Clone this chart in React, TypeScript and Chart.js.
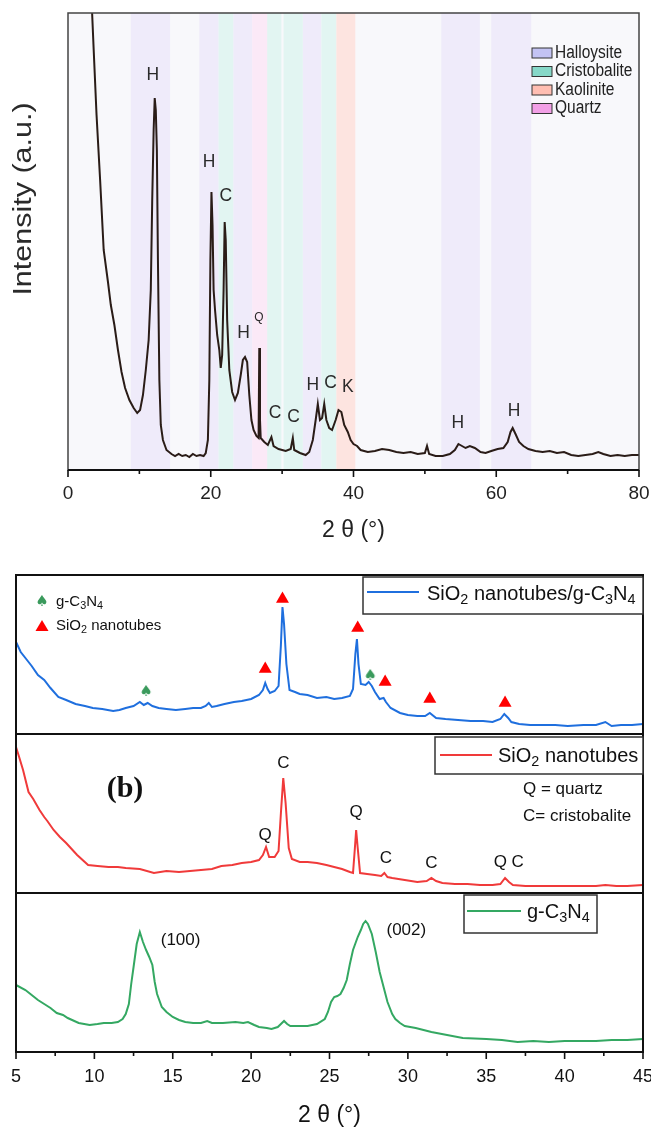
import React, { useEffect, useRef } from "react";
import { Chart, registerables } from "chart.js";

Chart.register(...registerables);

const SANS = "'Liberation Sans', Arial, Helvetica, sans-serif";
const SERIF = "'Liberation Serif', 'Times New Roman', serif";

// ---------------- Panel (a): halloysite XRD ----------------
const aTheta = [3.3, 3.6, 4.0, 4.5, 5.0, 5.6, 6.0, 6.5, 7.0, 7.5, 8.0, 8.6, 9.2, 9.7, 10.1, 10.5, 10.9, 11.3, 11.6, 11.8, 12.0, 12.15, 12.3, 12.45, 12.6, 12.8, 13.0, 13.3, 13.8, 14.5, 15.0, 15.5, 16.0, 16.5, 17.0, 17.5, 18.0, 18.5, 19.0, 19.3, 19.6, 19.8, 19.95, 20.1, 20.25, 20.4, 20.6, 20.9, 21.2, 21.4, 21.6, 21.8, 21.95, 22.1, 22.3, 22.6, 23.0, 23.4, 23.8, 24.2, 24.5, 24.8, 25.1, 25.4, 25.7, 26.0, 26.4, 26.7, 26.8, 26.9, 27.0, 27.5, 28.0, 28.5, 28.8, 29.5, 30.5, 31.2, 31.5, 31.7, 32.5, 33.3, 33.8, 34.3, 34.7, 35.0, 35.3, 35.6, 35.9, 36.2, 36.6, 37.0, 37.5, 37.9, 38.3, 38.7, 39.2, 39.6, 40.0, 40.5, 41.0, 42.0, 43.0, 44.0, 45.0, 46.0, 47.0, 48.0, 49.0, 50.0, 50.3, 50.6, 51.5, 52.5, 53.5, 54.2, 54.7, 55.2, 55.7, 56.3, 57.0, 57.8, 58.5, 59.3, 60.2, 61.0, 61.6, 62.0, 62.3, 62.7, 63.2, 63.8, 64.5, 65.5, 66.5, 67.5, 68.5, 69.5, 70.5, 71.5, 72.5, 73.5, 74.3, 75.0, 76.0, 77.0, 78.0, 79.0, 80.0];
const aIntensity = [470, 420, 355, 290, 220, 188, 165, 145, 120, 98, 82, 70, 62, 57, 60, 75, 100, 130, 180, 270, 340, 372, 360, 320, 210, 90, 45, 30, 20, 16, 14, 16, 14, 15, 13, 16, 14, 15, 14, 17, 30, 90, 210, 278, 245, 180, 160, 135, 120, 102, 115, 180, 248, 230, 150, 100, 78, 70, 77, 95, 110, 113, 108, 75, 50, 40, 34, 32, 122, 50, 32, 28, 25, 33, 24, 21, 19, 21, 32, 20, 17, 15, 18, 30, 50, 66, 50, 52, 66, 50, 42, 40, 50, 60, 58, 45, 38, 30, 26, 24, 20, 18, 19, 21, 20, 18, 17, 18, 16, 17, 24, 16, 14, 14, 16, 20, 26, 24, 22, 24, 22, 18, 17, 19, 21, 22, 28, 38, 42, 36, 28, 24, 21, 19, 18, 19, 17, 18, 15, 14, 15, 16, 18, 16, 14, 15, 14, 15, 15];
const aMajorTicks = [0, 20, 40, 60, 80];
const aMinorTicks = [10, 30, 50, 70];

const halloysiteBands = [[8.8, 14.3], [18.4, 21.1], [23.15, 25.8], [32.9, 35.5], [52.3, 57.7], [59.3, 64.9]];
const cristobaliteBands = [[21.1, 23.15], [27.9, 29.9], [30.2, 32.9], [35.5, 37.6]];
const quartzBands = [[25.8, 27.9]];
const kaoliniteBands = [[37.6, 40.25]];

const aPeakText = ["H", "H", "C", "H", "Q", "C", "C", "H", "C", "K", "H", "H"];
const aPeakTheta = [11.9, 19.75, 22.1, 24.6, 26.75, 29.0, 31.6, 34.3, 36.8, 39.2, 54.6, 62.5];
const aPeakLevel = [395, 308, 274, 137, 153, 57, 53, 85, 87, 83, 47, 59];

const phaseNames = ["Halloysite", "Cristobalite", "Kaolinite", "Quartz"];
const phaseSwatch = ["#c3c3f3", "#86d8c8", "#ffbeb2", "#f2a0e6"];

// ---------------- Panel (b): SiO2 nanotubes / g-C3N4 ----------------
const bMajorTicks = [5, 10, 15, 20, 25, 30, 35, 40, 45];
const bMinorTicks = [7.5, 12.5, 17.5, 22.5, 27.5, 32.5, 37.5, 42.5];

const compTheta = [5.0, 5.3, 5.6, 6.0, 6.4, 6.8, 7.2, 7.7, 8.2, 8.8, 9.4, 9.9, 10.5, 11.2, 11.6, 12.0, 12.5, 12.9, 13.15, 13.4, 13.7, 14.1, 14.6, 15.2, 15.8, 16.3, 16.8, 17.1, 17.3, 17.5, 17.8, 18.3, 18.9, 19.4, 20.0, 20.5, 20.75, 20.9, 21.05, 21.2, 21.5, 21.75, 21.9, 22.0, 22.1, 22.25, 22.45, 22.8, 23.1, 23.6, 24.2, 24.8, 25.3, 25.8, 26.3, 26.5, 26.65, 26.75, 26.85, 27.0, 27.3, 27.5, 27.7, 27.9, 28.2, 28.45, 28.6, 28.9, 29.5, 30.0, 30.6, 31.1, 31.4, 31.8, 32.4, 33.2, 34.0, 34.8, 35.4, 35.9, 36.15, 36.4, 36.6, 37.1, 37.8, 38.6, 39.4, 40.2, 41.2, 42.0, 42.6, 43.0, 43.6, 44.3, 45.0];
const compIntensity = [92, 82, 76, 68, 59, 54, 46, 37, 34, 30, 28, 26, 25, 23, 24, 26, 28, 32, 29, 31, 28, 26, 25, 24, 25, 26, 26, 28, 31, 27, 28, 30, 32, 33, 35, 39, 44, 51, 45, 41, 43, 48, 89, 127, 110, 70, 44, 42, 40, 39, 36, 37, 35, 36, 38, 45, 80, 95, 70, 50, 49, 52, 48, 42, 35, 36, 32, 26, 21, 19, 18, 18, 21, 16, 15, 14, 13, 13, 12, 15, 20, 16, 12, 10, 9, 9, 9, 8, 9, 9, 12, 8, 9, 9, 10];

const triTheta = [20.9, 22.0, 26.8, 28.55, 31.4, 36.2];
const triLevel = [65, 135, 106, 52, 35, 31];
const spadeTheta = [13.3, 27.6];
const spadeLevel = [42, 58];

const sioTheta = [5.0, 5.2, 5.45, 5.8, 6.1, 6.5, 6.8, 7.0, 7.4, 7.8, 8.2, 8.9, 9.6, 10.2, 10.9, 11.5, 12.0, 12.9, 13.8, 14.6, 15.4, 16.1, 16.8, 17.5, 18.1, 18.8, 19.4, 20.0, 20.5, 20.75, 20.95, 21.15, 21.5, 21.75, 21.9, 22.05, 22.2, 22.4, 22.6, 23.1, 23.6, 24.2, 24.8, 25.3, 25.8, 26.3, 26.5, 26.62, 26.7, 26.8, 26.95, 27.4, 27.9, 28.3, 28.5, 28.7, 29.0, 29.8, 30.6, 31.2, 31.5, 31.8, 32.2, 33.0, 33.8, 34.6, 35.4, 35.9, 36.2, 36.45, 36.7, 37.5, 38.6, 39.8, 41.2, 42.0, 42.6, 43.3, 44.0, 45.0];
const sioIntensity = [146, 136, 123, 101, 94, 83, 76, 72, 63, 56, 50, 38, 28, 27, 26, 26, 25, 24, 20, 22, 21, 22, 23, 24, 27, 28, 30, 31, 33, 38, 46, 36, 36, 42, 80, 115, 90, 45, 34, 31, 31, 30, 28, 26, 24, 21, 20, 45, 63, 45, 20, 19, 18, 17, 20, 16, 15, 13, 11, 12, 15, 12, 10, 9, 9, 8, 8, 9, 15, 11, 8, 7, 7, 7, 7, 7, 8, 7, 7, 8];
const sioLabelText = ["C", "Q", "Q", "C", "C", "Q", "C"];
const sioLabelTheta = [22.06, 20.9, 26.7, 28.6, 31.5, 35.9, 37.0];
const sioLabelLevel = [130, 58, 81, 35, 30, 31, 31];

const gcnTheta = [5.0, 5.6, 6.0, 6.4, 6.8, 7.2, 7.6, 8.0, 8.3, 9.0, 9.7, 10.2, 10.6, 11.1, 11.5, 11.8, 12.0, 12.2, 12.35, 12.5, 12.7, 12.9, 13.1, 13.3, 13.5, 13.7, 13.85, 14.0, 14.3, 14.6, 15.0, 15.4, 15.8, 16.3, 16.8, 17.2, 17.5, 18.2, 19.0, 19.5, 19.8, 20.2, 20.5, 21.0, 21.3, 21.7, 21.9, 22.1, 22.3, 22.5, 23.0, 23.6, 24.2, 24.7, 24.9, 25.1, 25.3, 25.5, 25.7, 25.9, 26.1, 26.3, 26.5, 26.8, 27.0, 27.15, 27.3, 27.45, 27.7, 27.95, 28.2, 28.5, 28.7, 29.0, 29.2, 29.5, 29.8, 30.5, 31.0, 31.5, 32.5, 33.5, 35.0, 36.0, 37.0, 38.0, 39.0, 40.0, 41.0, 42.0, 43.0, 44.0, 45.0];
const gcnIntensity = [67, 62, 57, 52, 48, 44, 39, 37, 34, 29, 27, 28, 29, 29, 30, 33, 38, 48, 68, 85, 108, 120, 110, 102, 95, 87, 70, 58, 45, 40, 35, 32, 30, 29, 29, 31, 29, 29, 30, 29, 30, 27, 25, 24, 23, 25, 28, 31, 28, 26, 26, 26, 28, 33, 40, 50, 55, 56, 58, 64, 72, 88, 102, 115, 122, 128, 131, 128, 118, 100, 80, 62, 50, 38, 33, 29, 26, 24, 22, 20, 17, 14, 13, 12, 10, 11, 10, 11, 11, 11, 12, 12, 13];
const gcnLabelText = ["(100)", "(002)"];
const gcnLabelTheta = [15.5, 29.9];
const gcnLabelLevel = [112, 122];

// ---------------- helpers ----------------
const pts = (xs: number[], ys: number[]) => xs.map((x, i) => ({ x, y: ys[i] }));

type Seg = [string, boolean?];
function drawRich(ctx: CanvasRenderingContext2D, segs: Seg[], x: number, y: number, size: number, align: "left" | "center" = "left", color = "#111", family = SANS) {
  ctx.save();
  ctx.fillStyle = color;
  ctx.textBaseline = "middle";
  ctx.textAlign = "left";
  const sub = size * 0.72;
  const widths = segs.map(([t, s]) => {
    ctx.font = `${s ? sub : size}px ${family}`;
    return ctx.measureText(t).width;
  });
  const total = widths.reduce((a, b) => a + b, 0);
  let cx = align === "center" ? x - total / 2 : x;
  segs.forEach(([t, s], i) => {
    ctx.font = `${s ? sub : size}px ${family}`;
    ctx.fillText(t, cx, s ? y + size * 0.3 : y);
    cx += widths[i];
  });
  ctx.restore();
}

function drawNarrow(ctx: CanvasRenderingContext2D, text: string, x: number, y: number, size: number, sx: number, align: CanvasTextAlign, color = "#222") {
  ctx.save();
  ctx.translate(x, y);
  ctx.scale(sx, 1);
  ctx.font = `${size}px ${SANS}`;
  ctx.textAlign = align;
  ctx.textBaseline = "middle";
  ctx.fillStyle = color;
  ctx.fillText(text, 0, 0);
  ctx.restore();
}

function drawTicks(ctx: CanvasRenderingContext2D, chart: any, majors: number[], minors: number[]) {
  const a = chart.chartArea;
  const x = chart.scales.x;
  ctx.save();
  ctx.strokeStyle = "#111";
  ctx.lineWidth = 1.6;
  ctx.beginPath();
  majors.forEach((v) => { const p = x.getPixelForValue(v); ctx.moveTo(p, a.bottom); ctx.lineTo(p, a.bottom + 7); });
  minors.forEach((v) => { const p = x.getPixelForValue(v); ctx.moveTo(p, a.bottom); ctx.lineTo(p, a.bottom + 4); });
  ctx.stroke();
  ctx.restore();
}

function legendBox(ctx: CanvasRenderingContext2D, x0: number, y0: number, x1: number, y1: number, color: string, lx0: number, lx1: number, ly: number, segs: Seg[], tx: number, ty: number) {
  ctx.save();
  ctx.fillStyle = "#fff";
  ctx.fillRect(x0, y0, x1 - x0, y1 - y0);
  ctx.strokeStyle = "#333";
  ctx.lineWidth = 1.5;
  ctx.strokeRect(x0, y0, x1 - x0, y1 - y0);
  ctx.strokeStyle = color;
  ctx.lineWidth = 2.2;
  ctx.beginPath();
  ctx.moveTo(lx0, ly);
  ctx.lineTo(lx1, ly);
  ctx.stroke();
  ctx.restore();
  drawRich(ctx, segs, tx, ty, 20, "left", "#111");
}

function frame(ctx: CanvasRenderingContext2D, a: any) {
  ctx.save();
  ctx.strokeStyle = "#111";
  ctx.lineWidth = 2;
  ctx.strokeRect(a.left, a.top, a.right - a.left, a.bottom - a.top);
  ctx.restore();
}

function makeSpade(): HTMLCanvasElement {
  const c = document.createElement("canvas");
  c.width = 14;
  c.height = 16;
  const g = c.getContext("2d")!;
  g.fillStyle = "#3a9a5c";
  g.font = `15px 'DejaVu Sans', sans-serif`;
  g.textAlign = "center";
  g.textBaseline = "middle";
  g.fillText("\u2660", 7, 8);
  return c;
}

const baseOptions = (padding: any) => ({
  responsive: false,
  animation: false as const,
  events: [] as any[],
  layout: { padding },
  plugins: { legend: { display: false }, tooltip: { enabled: false } },
});

const fixHeight = (h: number) => (s: any) => {
  s.height = h;
  s.paddingLeft = 0;
  s.paddingRight = 0;
};

// ---------------- configs ----------------
function makeTopConfig(): any {
  const plugin = {
    id: "panelA",
    beforeDatasetsDraw(chart: any) {
      const { ctx, chartArea: a } = chart;
      const x = chart.scales.x;
      ctx.save();
      ctx.fillStyle = "#f8f8fb";
      ctx.fillRect(a.left, a.top, a.right - a.left, a.bottom - a.top);
      const fill = (bands: number[][], color: string) => {
        ctx.fillStyle = color;
        bands.forEach(([s, e]) => {
          const p0 = x.getPixelForValue(s);
          const p1 = x.getPixelForValue(e);
          ctx.fillRect(p0, a.top, p1 - p0, a.bottom - a.top);
        });
      };
      fill(halloysiteBands, "#efebfa");
      fill(cristobaliteBands, "#e2f5f2");
      fill(quartzBands, "#fbe9f7");
      fill(kaoliniteBands, "#fde4e0");
      ctx.restore();
    },
    afterDatasetsDraw(chart: any) {
      const { ctx, chartArea: a } = chart;
      const x = chart.scales.x;
      const y = chart.scales.y;
      ctx.save();
      ctx.strokeStyle = "#444";
      ctx.lineWidth = 1.5;
      ctx.strokeRect(a.left, a.top, a.right - a.left, a.bottom - a.top);
      ctx.strokeStyle = "#111";
      ctx.lineWidth = 2;
      ctx.beginPath();
      ctx.moveTo(a.left, a.bottom);
      ctx.lineTo(a.right, a.bottom);
      ctx.stroke();
      ctx.restore();
      drawTicks(ctx, chart, aMajorTicks, aMinorTicks);
      aPeakText.forEach((t, i) => {
        const px = x.getPixelForValue(aPeakTheta[i]);
        const py = y.getPixelForValue(aPeakLevel[i]);
        drawNarrow(ctx, t, px, py, t === "Q" ? 13 : 19, 0.92, "center", "#2a2a2a");
      });
      // legend
      phaseNames.forEach((n, i) => {
        const ly = 53 + i * 18.5;
        ctx.save();
        ctx.fillStyle = phaseSwatch[i];
        ctx.fillRect(532, ly - 5, 20, 10);
        ctx.strokeStyle = "#333";
        ctx.lineWidth = 1;
        ctx.strokeRect(532, ly - 5, 20, 10);
        ctx.restore();
        drawNarrow(ctx, n, 555, ly, 18, 0.86, "left", "#222");
      });
      // y title (stretched along its length like the source figure)
      ctx.save();
      ctx.translate(24, 199);
      ctx.rotate(-Math.PI / 2);
      ctx.scale(1.22, 1);
      ctx.font = `25px ${SANS}`;
      ctx.textAlign = "center";
      ctx.textBaseline = "middle";
      ctx.fillStyle = "#2a2a2a";
      ctx.fillText("Intensity (a.u.)", 0, 0);
      ctx.restore();
    },
  };
  return {
    type: "line",
    data: {
      datasets: [
        { data: pts(aTheta, aIntensity), borderColor: "#2a1c17", borderWidth: 2, pointRadius: 0, tension: 0, fill: false },
      ],
    },
    options: {
      ...baseOptions({ left: 68, right: 12, top: 13, bottom: 0 }),
      scales: {
        x: {
          type: "linear", min: 0, max: 80,
          afterFit: fixHeight(90),
          grid: { display: false, drawTicks: false },
          border: { display: false },
          ticks: { stepSize: 20, font: { size: 19, family: SANS }, color: "#222", padding: 12 },
          title: { display: true, text: "2 θ (°)", font: { size: 23, family: SANS }, color: "#222", padding: { top: 0, bottom: 16 } },
        },
        y: { display: false, min: 0, max: 457 },
      },
    },
    plugins: [plugin],
  };
}

const OFF = 560; // top of bottom canvases on the page

function makeCompositeConfig(): any {
  const spade = makeSpade();
  const plugin = {
    id: "panelB1",
    afterDatasetsDraw(chart: any) {
      const { ctx, chartArea: a } = chart;
      frame(ctx, a);
      // marker key
      ctx.save();
      ctx.drawImage(spade, 42 - 7, 602 - OFF - 8);
      ctx.fillStyle = "#ff0000";
      ctx.beginPath();
      ctx.moveTo(42, 626 - OFF - 6);
      ctx.lineTo(48.5, 626 - OFF + 5);
      ctx.lineTo(35.5, 626 - OFF + 5);
      ctx.closePath();
      ctx.fill();
      ctx.restore();
      drawRich(ctx, [["g-C"], ["3", true], ["N"], ["4", true]], 56, 602 - OFF, 15);
      drawRich(ctx, [["SiO"], ["2", true], [" nanotubes"]], 56, 626 - OFF, 15);
      legendBox(ctx, 363, 577 - OFF, a.right, 614 - OFF, "#1f6fde", 367, 419, 592 - OFF,
        [["SiO"], ["2", true], [" nanotubes/g-C"], ["3", true], ["N"], ["4", true]], 427, 594 - OFF);
    },
  };
  return {
    type: "line",
    data: {
      datasets: [
        { data: pts(compTheta, compIntensity), borderColor: "#1f6fde", borderWidth: 2, pointRadius: 0, tension: 0 },
        { data: pts(triTheta, triLevel), showLine: false, pointStyle: "triangle", pointRadius: 7.5, backgroundColor: "#ff0000", borderColor: "#ff0000", borderWidth: 0, clip: false },
        { data: pts(spadeTheta, spadeLevel), showLine: false, pointStyle: spade, pointRadius: 7, clip: false },
      ],
    },
    options: {
      ...baseOptions({ left: 16, right: 8, top: 15, bottom: 393 }),
      scales: {
        x: { type: "linear", display: false, min: 5, max: 45 },
        y: { display: false, min: 0, max: 159 },
      },
    },
    plugins: [plugin],
  };
}

function makeSioConfig(): any {
  const plugin = {
    id: "panelB2",
    afterDatasetsDraw(chart: any) {
      const { ctx, chartArea: a } = chart;
      const x = chart.scales.x;
      const y = chart.scales.y;
      frame(ctx, a);
      sioLabelText.forEach((t, i) => {
        drawRich(ctx, [[t]], x.getPixelForValue(sioLabelTheta[i]), y.getPixelForValue(sioLabelLevel[i]), 17, "center", "#111");
      });
      ctx.save();
      ctx.font = `bold 30px ${SERIF}`;
      ctx.textAlign = "center";
      ctx.textBaseline = "middle";
      ctx.fillStyle = "#111";
      ctx.fillText("(b)", 125, 789 - OFF);
      ctx.restore();
      drawRich(ctx, [["Q = quartz"]], 523, 789 - OFF, 17);
      drawRich(ctx, [["C= cristobalite"]], 523, 816 - OFF, 17);
      legendBox(ctx, 435, 737 - OFF, a.right, 774 - OFF, "#f03a3a", 440, 492, 755 - OFF,
        [["SiO"], ["2", true], [" nanotubes"]], 498, 756 - OFF);
    },
  };
  return {
    type: "line",
    data: {
      datasets: [
        { data: pts(sioTheta, sioIntensity), borderColor: "#f03a3a", borderWidth: 2, pointRadius: 0, tension: 0 },
      ],
    },
    options: {
      ...baseOptions({ left: 16, right: 8, top: 174, bottom: 234 }),
      scales: {
        x: { type: "linear", display: false, min: 5, max: 45 },
        y: { display: false, min: 0, max: 159 },
      },
    },
    plugins: [plugin],
  };
}

function makeGcnConfig(): any {
  const plugin = {
    id: "panelB3",
    afterDatasetsDraw(chart: any) {
      const { ctx, chartArea: a } = chart;
      const x = chart.scales.x;
      const y = chart.scales.y;
      frame(ctx, a);
      drawTicks(ctx, chart, bMajorTicks, bMinorTicks);
      gcnLabelText.forEach((t, i) => {
        drawRich(ctx, [[t]], x.getPixelForValue(gcnLabelTheta[i]), y.getPixelForValue(gcnLabelLevel[i]), 17, "center", "#111");
      });
      legendBox(ctx, 464, 895 - OFF, 597, 933 - OFF, "#34a862", 467, 521, 911 - OFF,
        [["g-C"], ["3", true], ["N"], ["4", true]], 527, 912 - OFF);
    },
  };
  return {
    type: "line",
    data: {
      datasets: [
        { data: pts(gcnTheta, gcnIntensity), borderColor: "#34a862", borderWidth: 2, pointRadius: 0, tension: 0 },
      ],
    },
    options: {
      ...baseOptions({ left: 16, right: 8, top: 333, bottom: 0 }),
      scales: {
        x: {
          type: "linear", min: 5, max: 45,
          afterFit: fixHeight(75),
          grid: { display: false, drawTicks: false },
          border: { display: false },
          ticks: { stepSize: 5, font: { size: 18, family: SANS }, color: "#111", padding: 14 },
          title: { display: true, text: "2 θ (°)", font: { size: 23, family: SANS, lineHeight: 1 }, color: "#111", padding: { top: 0, bottom: 0 } },
        },
        y: { display: false, min: 0, max: 159 },
      },
    },
    plugins: [plugin],
  };
}

function ChartCanvas({ make, top, height }: { make: () => any; top: number; height: number }) {
  const ref = useRef<HTMLCanvasElement>(null);
  useEffect(() => {
    const chart = new Chart(ref.current!, make());
    return () => chart.destroy();
  }, []);
  return (
    <canvas
      ref={ref}
      width={651}
      height={height}
      style={{ position: "absolute", left: 0, top, width: 651, height }}
    />
  );
}

export default function App() {
  return (
    <div style={{ position: "absolute", left: 0, top: 0, width: 651, height: 1127, background: "#fff", overflow: "hidden" }}>
      <ChartCanvas make={makeTopConfig} top={0} height={560} />
      <ChartCanvas make={makeCompositeConfig} top={OFF} height={567} />
      <ChartCanvas make={makeSioConfig} top={OFF} height={567} />
      <ChartCanvas make={makeGcnConfig} top={OFF} height={567} />
    </div>
  );
}
